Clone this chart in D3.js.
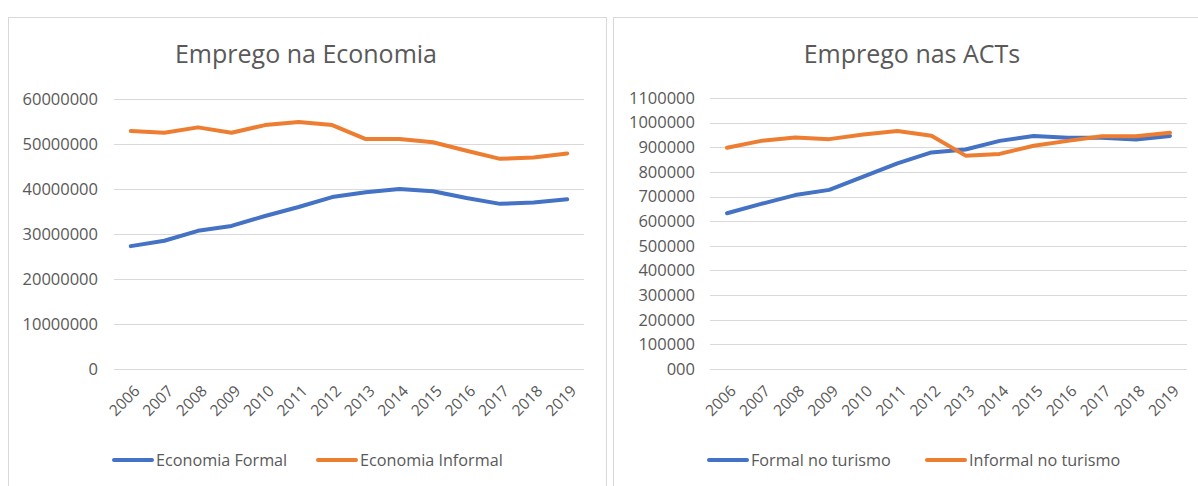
<!DOCTYPE html>
<html>
<head>
<meta charset="utf-8">
<script src="https://cdn.jsdelivr.net/npm/d3@7"></script>
<style>
  html, body { margin: 0; padding: 0; background: #fff; }
  svg { display: block; }
  text { font-family: "Open Sans", "Noto Sans", sans-serif; fill: #595959; }
</style>
</head>
<body>
<svg id="chart" width="1198" height="486"></svg>
<script>
const years = ["2006","2007","2008","2009","2010","2011","2012","2013","2014","2015","2016","2017","2018","2019"];

const economiaFormal   = [27300000, 28500000, 30700000, 31800000, 34000000, 36000000, 38200000, 39300000, 40000000, 39500000, 38000000, 36700000, 37000000, 37700000];
const economiaInformal = [52900000, 52500000, 53700000, 52500000, 54200000, 54900000, 54200000, 51100000, 51100000, 50400000, 48500000, 46700000, 47000000, 47900000];

const formalTurismo    = [632000, 670000, 706000, 727000, 781000, 835000, 879000, 891000, 926000, 946000, 939000, 939000, 932000, 946000];
const informalTurismo  = [898000, 926000, 940000, 933000, 952000, 966000, 947000, 866000, 873000, 906000, 926000, 945000, 945000, 959000];

const leftTicks  = [0, 10000000, 20000000, 30000000, 40000000, 50000000, 60000000];
const leftTickLabels = ["0","10000000","20000000","30000000","40000000","50000000","60000000"];
const rightTicks = [0,100000,200000,300000,400000,500000,600000,700000,800000,900000,1000000,1100000];
const rightTickLabels = ["000","100000","200000","300000","400000","500000","600000","700000","800000","900000","1000000","1100000"];

const titles = ["Emprego na Economia", "Emprego nas ACTs"];
const legendNames = [["Economia Formal","Economia Informal"],["Formal no turismo","Informal no turismo"]];
const colors = ["#4472C4", "#ED7D31"];

const svg = d3.select("#chart");

function panel(cfg) {
  const g = svg.append("g");
  // panel border
  g.append("rect")
    .attr("x", cfg.box[0] + 0.5).attr("y", cfg.box[1] + 0.5)
    .attr("width", cfg.box[2]).attr("height", cfg.box[3])
    .attr("fill", "#fff").attr("stroke", "#d9d9d9").attr("stroke-width", 1);

  // title
  g.append("text")
    .attr("x", cfg.titleX).attr("y", 63)
    .attr("text-anchor", "middle")
    .style("font-size", "25px")
    .text(cfg.title);

  const x = d3.scaleBand().domain(years).range(cfg.xRange);
  const y = d3.scaleLinear().domain([0, cfg.yMax]).range([369, cfg.yTop]);

  // gridlines
  g.append("g").selectAll("line").data(cfg.ticks).join("line")
    .attr("x1", cfg.xRange[0]).attr("x2", cfg.xRange[1])
    .attr("y1", d => Math.round(y(d)) + 0.5).attr("y2", d => Math.round(y(d)) + 0.5)
    .attr("stroke", "#d9d9d9").attr("stroke-width", 1);

  // y axis labels
  const yAxis = d3.axisLeft(y).tickValues(cfg.ticks)
    .tickFormat((d, i) => cfg.tickLabels[i]).tickSize(0).tickPadding(0);
  const ya = g.append("g").attr("transform", `translate(${cfg.yLabelX},0)`).call(yAxis);
  ya.select(".domain").remove();
  ya.selectAll("text").style("font-size", "16.5px").attr("fill", "#595959")
    .style("font-family", "'Open Sans', sans-serif");

  // x axis labels
  const xAxis = d3.axisBottom(x).tickSize(0).tickPadding(0);
  const xa = g.append("g").attr("transform", "translate(0,375)").call(xAxis);
  xa.select(".domain").remove();
  xa.selectAll("text")
    .style("font-size", "15.5px").attr("fill", "#595959")
    .style("font-family", "'Open Sans', sans-serif")
    .attr("text-anchor", "end")
    .attr("dy", null).attr("y", 0)
    .attr("transform", "translate(10,17) rotate(-45)");

  // lines
  const line = d3.line().x((d, i) => x(years[i]) + x.bandwidth() / 2).y(d => y(d));
  cfg.series.forEach((s, k) => {
    g.append("path").datum(s)
      .attr("d", line)
      .attr("fill", "none")
      .attr("stroke", colors[k])
      .attr("stroke-width", 4)
      .attr("stroke-linejoin", "round")
      .attr("stroke-linecap", "round");
  });

  // legend
  cfg.legend.forEach((lx, k) => {
    g.append("line")
      .attr("x1", lx).attr("x2", lx + 38)
      .attr("y1", 460).attr("y2", 460)
      .attr("stroke", colors[k]).attr("stroke-width", 4).attr("stroke-linecap", "round");
    g.append("text")
      .attr("x", lx + 42).attr("y", 466)
      .style("font-size", "16.2px")
      .text(cfg.legendNames[k]);
  });
}

panel({
  box: [8, 17, 598, 480],
  title: titles[0], titleX: 306,
  xRange: [114, 584], yMax: 60000000, yTop: 99, yLabelX: 98,
  ticks: leftTicks, tickLabels: leftTickLabels,
  series: [economiaFormal, economiaInformal],
  legend: [114, 318],
  legendNames: legendNames[0]
});

panel({
  box: [613, 17, 600, 480],
  title: titles[1], titleX: 912,
  xRange: [710, 1187], yMax: 1100000, yTop: 98, yLabelX: 695,
  ticks: rightTicks, tickLabels: rightTickLabels,
  series: [formalTurismo, informalTurismo],
  legend: [709, 927],
  legendNames: legendNames[1]
});
</script>
</body>
</html>
